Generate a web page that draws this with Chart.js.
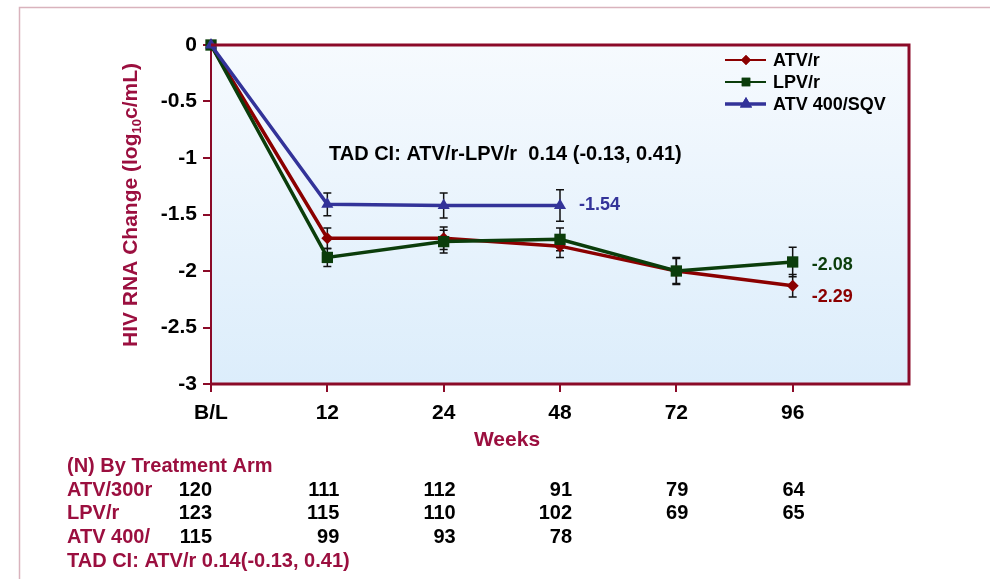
<!DOCTYPE html>
<html>
<head>
<meta charset="utf-8">
<script src="https://cdn.jsdelivr.net/npm/chart.js@4.4.1/dist/chart.umd.min.js"></script>
<style>
  html, body { margin: 0; padding: 0; background: #fff; }
  #wrap { width: 990px; height: 579px; }
</style>
</head>
<body>
<div id="wrap"><canvas id="chart-line"></canvas></div>
<script>
// data
const weeks = ['B/L', '12', '24', '48', '72', '96', ''];
const atvR = [0, -1.71, -1.71, -1.78, -2.0, -2.13];
const atvRErr = [0, 0.09, 0.1, 0.1, 0.11, 0.1];
const lpvR = [0, -1.88, -1.74, -1.72, -2.0, -1.92];
const lpvRErr = [0, 0.08, 0.1, 0.1, 0.12, 0.13];
const atvSqv = [0, -1.41, -1.42, -1.42, null, null];
const atvSqvErr = [0, 0.1, 0.11, 0.14, null, null];
const seriesNames = ['ATV/r', 'LPV/r', 'ATV 400/SQV'];
const endLabels = ['-2.29', '-2.08', '-1.54'];
const ciText = 'TAD CI: ATV/r-LPV/r  0.14 (-0.13, 0.41)';

// (N) table under the chart
const tableTitle = '(N) By Treatment Arm';
const rowNames = ['ATV/300r', 'LPV/r', 'ATV 400/'];
const nAtvR = [120, 111, 112, 91, 79, 64];
const nLpvR = [123, 115, 110, 102, 69, 65];
const nAtvSqv = [115, 99, 93, 78];
const tableFoot = 'TAD CI: ATV/r 0.14(-0.13, 0.41)';

const MAROON = '#8B0A28';
const TXT_RED = '#9B0F3F';
const RED = '#8B0000';
const GREEN = '#0B3D0B';
const BLUE = '#333399';
const FONT = 'Liberation Sans, Arial, sans-serif';

var ctx = document.getElementById('chart-line').getContext('2d');

const slidePlugin = {
  id: 'slide',
  beforeDraw(chart) {
    const c = chart.ctx, a = chart.chartArea;
    c.save();
    // outer slide frame
    c.strokeStyle = '#D9B3BD';
    c.lineWidth = 1.5;
    c.beginPath();
    c.moveTo(19.5, 579); c.lineTo(19.5, 7.5); c.lineTo(990, 7.5);
    c.stroke();
    // plot background
    let g = c.createLinearGradient(0, a.top, 0, a.bottom);
    g.addColorStop(0, '#F6FAFE');
    g.addColorStop(1, '#DCEDFB');
    c.fillStyle = g;
    c.fillRect(a.left, a.top, a.right - a.left, a.bottom - a.top);
    c.restore();
  },
  beforeDatasetsDraw(chart) {
    // error bars sit under the markers
    const c = chart.ctx, x = chart.scales.x, y = chart.scales.y;
    const sets = [[atvR, atvRErr], [lpvR, lpvRErr], [atvSqv, atvSqvErr]];
    c.save();
    c.strokeStyle = '#111';
    c.lineWidth = 1.5;
    sets.forEach(function (s) {
      s[0].forEach(function (v, i) {
        const e = s[1][i];
        if (v === null || !e) return;
        const px = x.getPixelForValue(i);
        const y1 = y.getPixelForValue(v + e), y2 = y.getPixelForValue(v - e);
        c.beginPath();
        c.moveTo(px, y1); c.lineTo(px, y2);
        c.moveTo(px - 4, y1); c.lineTo(px + 4, y1);
        c.moveTo(px - 4, y2); c.lineTo(px + 4, y2);
        c.stroke();
      });
    });
    c.restore();
  },
  afterDraw(chart) {
    const c = chart.ctx, a = chart.chartArea, x = chart.scales.x, y = chart.scales.y;
    c.save();
    // frame top / right / bottom
    c.strokeStyle = MAROON;
    c.lineWidth = 3;
    c.beginPath();
    c.moveTo(a.left, a.top); c.lineTo(a.right, a.top); c.lineTo(a.right, a.bottom); c.lineTo(a.left, a.bottom);
    c.stroke();

    // legend
    const colors = [RED, GREEN, BLUE];
    const styles = ['rectRot', 'rect', 'triangle'];
    const radii = [5, 6, 7];
    seriesNames.forEach(function (name, i) {
      const ly = 60 + i * 22;
      c.strokeStyle = colors[i];
      c.lineWidth = i == 2 ? 3.5 : 2;
      c.beginPath(); c.moveTo(725, ly); c.lineTo(766, ly); c.stroke();
      c.fillStyle = colors[i];
      Chart.helpers.drawPoint(c, { pointStyle: styles[i], radius: radii[i], rotation: 0, borderWidth: 0 }, 746, ly);
      c.fill();
      c.fillStyle = '#000';
      c.font = 'bold 18px ' + FONT;
      c.textBaseline = 'middle';
      c.textAlign = 'left';
      c.fillText(name, 773, ly + 1);
    });

    // CI note inside the plot
    c.fillStyle = '#000';
    c.font = 'bold 20px ' + FONT;
    c.fillText(ciText, 329, 154);

    // values at the end of each line
    const lastIdx = [5, 5, 3];
    const dy = [11, 3, 0];
    const vals = [atvR, lpvR, atvSqv];
    endLabels.forEach(function (t, i) {
      c.fillStyle = colors[i];
      c.font = 'bold 18px ' + FONT;
      c.textAlign = 'left';
      c.fillText(t, x.getPixelForValue(lastIdx[i]) + 19, y.getPixelForValue(vals[i][lastIdx[i]]) + dy[i]);
    });

    // y title with subscript
    c.translate(131, 205);
    c.rotate(-Math.PI / 2);
    c.fillStyle = TXT_RED;
    const p1 = 'HIV RNA Change (log', p2 = '10', p3 = 'c/mL)';
    c.font = 'bold 21px ' + FONT;
    const w1 = c.measureText(p1).width, w3 = c.measureText(p3).width;
    c.font = 'bold 13px ' + FONT;
    const w2 = c.measureText(p2).width;
    let sx = -(w1 + w2 + w3) / 2;
    c.textAlign = 'left';
    c.textBaseline = 'middle';
    c.font = 'bold 21px ' + FONT;
    c.fillText(p1, sx, 0);
    c.font = 'bold 13px ' + FONT;
    c.fillText(p2, sx + w1, 6);
    c.font = 'bold 21px ' + FONT;
    c.fillText(p3, sx + w1 + w2, 0);
    c.setTransform(1, 0, 0, 1, 0, 0);

    // x title
    c.fillStyle = TXT_RED;
    c.font = 'bold 21px ' + FONT;
    c.textAlign = 'center';
    c.fillText('Weeks', 507, 440);

    // N table
    c.font = 'bold 20px ' + FONT;
    c.textAlign = 'left';
    c.fillStyle = TXT_RED;
    c.fillText(tableTitle, 67, 466);
    const rows = [nAtvR, nLpvR, nAtvSqv];
    rows.forEach(function (r, j) {
      const ry = 490 + j * 23.5;
      c.textAlign = 'left';
      c.fillStyle = TXT_RED;
      c.fillText(rowNames[j], 67, ry);
      c.fillStyle = '#000';
      c.textAlign = 'right';
      r.forEach(function (n, i) {
        c.fillText(String(n), x.getPixelForValue(i) + (i == 0 ? 1 : 12), ry);
      });
    });
    c.textAlign = 'left';
    c.fillStyle = TXT_RED;
    c.fillText(tableFoot, 67, 561);
    c.restore();
  }
};

new Chart(ctx, {
  type: 'line',
  data: {
    labels: weeks,
    datasets: [{
      label: seriesNames[0],
      data: atvR,
      borderColor: RED,
      backgroundColor: RED,
      borderWidth: 3.5,
      pointStyle: 'rectRot',
      pointRadius: 6,
      pointBorderWidth: 0,
      tension: 0,
      clip: false,
      order: 3
    }, {
      label: seriesNames[1],
      data: lpvR,
      borderColor: GREEN,
      backgroundColor: GREEN,
      borderWidth: 3.5,
      pointStyle: 'rect',
      pointRadius: 8,
      pointBorderWidth: 0,
      tension: 0,
      clip: false,
      order: 2
    }, {
      label: seriesNames[2],
      data: atvSqv,
      borderColor: BLUE,
      backgroundColor: BLUE,
      borderWidth: 3.5,
      pointStyle: 'triangle',
      pointRadius: 7,
      pointBorderWidth: 0,
      tension: 0,
      clip: false,
      spanGaps: false,
      order: 1
    }]
  },
  options: {
    responsive: true,
    maintainAspectRatio: false,
    animation: false,
    layout: { padding: { left: 0, top: 45, right: 81, bottom: 0 } },
    plugins: {
      legend: { display: false },
      tooltip: { enabled: false }
    },
    scales: {
      x: {
        type: 'category',
        offset: false,
        afterFit: function (s) { s.height = 579 - 384; },
        grid: {
          offset: false,
          drawOnChartArea: false,
          drawTicks: true,
          tickLength: 8,
          lineWidth: 2,
          tickColor: function (c) { return c.index == 6 ? 'rgba(0,0,0,0)' : MAROON; }
        },
        border: { display: false },
        ticks: {
          color: '#000',
          padding: 9,
          maxRotation: 0,
          autoSkip: false,
          font: { size: 21, weight: 'bold', family: FONT }
        }
      },
      y: {
        min: -3,
        max: 0,
        afterFit: function (s) { s.width = 211; },
        grid: {
          drawOnChartArea: false,
          drawTicks: true,
          tickLength: 8,
          lineWidth: 2,
          color: MAROON
        },
        border: { display: true, color: MAROON, width: 2 },
        ticks: {
          stepSize: 0.5,
          color: '#000',
          padding: 6,
          font: { size: 21, weight: 'bold', family: FONT },
          callback: function (v) { return v === 0 ? '0' : String(v); }
        }
      }
    }
  },
  plugins: [slidePlugin]
});
</script>
</body>
</html>
